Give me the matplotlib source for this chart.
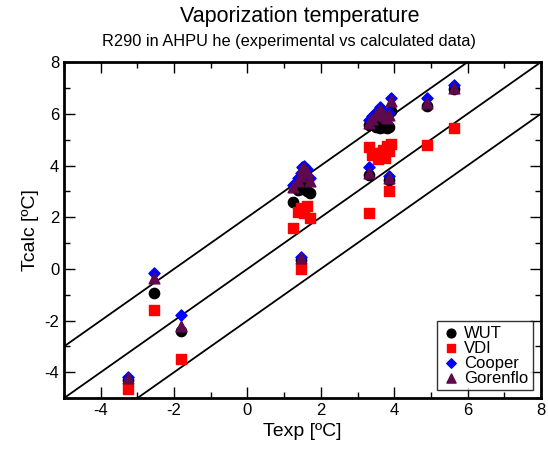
import matplotlib
matplotlib.use("Agg")
import matplotlib.pyplot as plt
import numpy as np
from matplotlib.ticker import MultipleLocator

plt.rcParams['font.family'] = ['Liberation Sans', 'DejaVu Sans']
plt.rcParams['axes.unicode_minus'] = False

# experimental vaporization temperature, same for all four correlations
t_exp = [-3.25, -2.55, -1.8, 1.25, 1.38, 1.45, 1.5, 1.55, 1.62, 1.7, 1.45,
         3.3, 3.4, 3.5, 3.55, 3.6, 3.65, 3.7, 3.75, 3.8, 3.85, 3.9,
         3.3, 3.85, 4.9, 5.62]

wut = [-4.3, -0.95, -2.4, 2.6, 3.05, 3.1, 3.2, 3.15, 3.0, 2.95, 0.33,
       5.55, 5.6, 5.5, 5.6, 5.45, 5.7, 5.5, 5.6, 5.45, 5.5, 6.1,
       3.62, 3.42, 6.3, 6.95]
vdi = [-4.65, -1.6, -3.5, 1.6, 2.2, 2.35, 2.3, 2.15, 2.45, 1.95, -0.02,
       4.7, 4.4, 4.5, 4.25, 4.35, 4.5, 4.6, 4.3, 4.75, 4.55, 4.85,
       2.17, 3.02, 4.8, 5.46]
cooper = [-4.18, -0.15, -1.8, 3.25, 3.5, 3.7, 3.95, 4.0, 3.85, 3.5, 0.45,
          5.75, 5.9, 6.05, 6.15, 6.25, 6.2, 6.1, 6.0, 5.95, 6.05, 6.6,
          3.95, 3.58, 6.6, 7.12]
gorenflo = [-4.22, -0.35, -2.2, 3.15, 3.4, 3.6, 3.85, 3.9, 3.75, 3.4, 0.42,
            5.65, 5.8, 5.95, 6.05, 6.15, 6.1, 6.0, 5.9, 5.85, 5.95, 6.5,
            3.72, 3.5, 6.42, 7.0]

offsets = [2, 0, -2]  # +-2 K band around perfect agreement

fig = plt.figure(figsize=(5.48, 4.57), dpi=100)
ax = fig.add_axes([0.117, 0.129, 0.870, 0.735])

xs = np.array([-5, 8])
for d in offsets:
    ax.plot(xs, xs + d, color='black', lw=1.3, zorder=1)

ax.scatter(t_exp, wut, s=55, marker='o', color='black', label='WUT', zorder=2)
ax.scatter(t_exp, vdi, s=50, marker='s', color='#ff0000', label='VDI', zorder=3)
ax.scatter(t_exp, cooper, s=32, marker='D', color='#0000ff', label='Cooper', zorder=4)
ax.scatter(t_exp, gorenflo, s=60, marker='^', color='#5e0a4c', label='Gorenflo', zorder=5)

ax.set_xlim(-5, 8)
ax.set_ylim(-5, 8)
ax.xaxis.set_major_locator(MultipleLocator(2))
ax.xaxis.set_minor_locator(MultipleLocator(1))
ax.yaxis.set_major_locator(MultipleLocator(2))
ax.yaxis.set_minor_locator(MultipleLocator(1))
ax.tick_params(which='both', direction='in', top=True, right=True, labelsize=12)
ax.tick_params(which='major', length=8, width=1)
ax.tick_params(which='minor', length=4, width=1)
for s in ax.spines.values():
    s.set_linewidth(2)

ax.set_xlabel('Texp [ºC]', fontsize=14)
ax.set_ylabel('Tcalc [ºC]', fontsize=14)

fig.text(0.547, 0.963, 'Vaporization temperature', ha='center', va='center', fontsize=15.5)
fig.text(0.527, 0.910, 'R290 in AHPU he (experimental vs calculated data)',
         ha='center', va='center', fontsize=11.8)

leg = ax.legend(loc='lower right', fontsize=12, frameon=True, fancybox=False,
                handletextpad=0.2, borderpad=0.25, labelspacing=0.0,
                handlelength=1.2, borderaxespad=0.5, markerscale=0.85)
leg.get_frame().set_edgecolor('black')
leg.get_frame().set_linewidth(1)

fig.savefig('out.png', dpi=100)
